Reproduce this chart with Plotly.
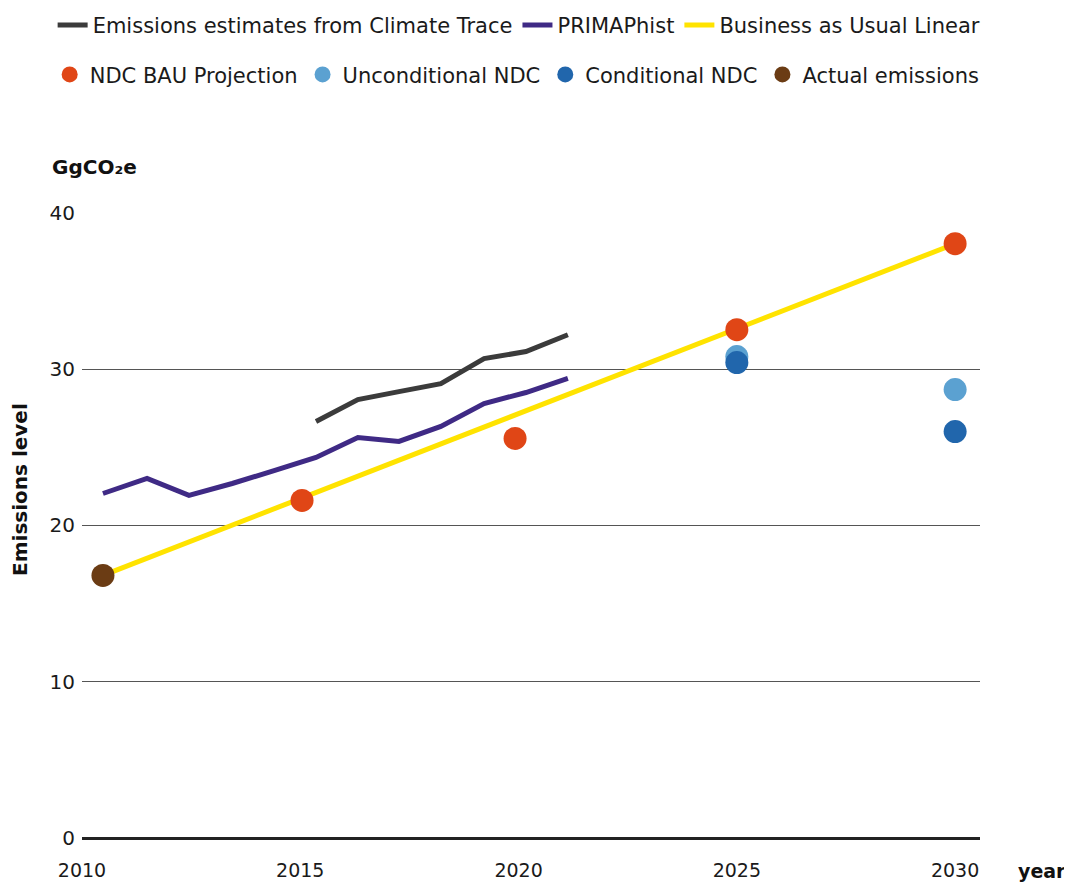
import plotly.graph_objects as go

# ---- data ----
ct_x = [2015.36, 2016.32, 2017.26, 2018.22, 2019.21, 2020.17, 2021.13]
ct_y = [26.65, 28.05, 28.56, 29.07, 30.67, 31.12, 32.2]

primap_x = [2010.48, 2011.49, 2012.45, 2013.44, 2014.40, 2015.36, 2016.32,
            2017.26, 2018.22, 2019.21, 2020.17, 2021.13]
primap_y = [22.04, 23.0, 21.92, 22.68, 23.5, 24.35, 25.62, 25.37, 26.33,
            27.8, 28.5, 29.4]

bau_x = [2010.48, 2030.0]
bau_y = [16.8, 38.02]

ndc_bau_x = [2015.04, 2019.92, 2025.0, 2030.0]
ndc_bau_y = [21.6, 25.56, 32.52, 38.02]

uncond_x = [2025.0, 2030.0]
uncond_y = [30.8, 28.69]

cond_x = [2025.0, 2030.0]
cond_y = [30.42, 26.0]

actual_x = [2010.48]
actual_y = [16.8]

x_ticks = [2010, 2015, 2020, 2025, 2030]
y_ticks = [0, 10, 20, 30, 40]

FONT = "DejaVu Sans"
fig = go.Figure()

fig.add_trace(go.Scatter(x=ct_x, y=ct_y, mode="lines", name="Emissions estimates from Climate Trace",
                         line=dict(color="#3b3b3b", width=5), legend="legend"))
fig.add_trace(go.Scatter(x=primap_x, y=primap_y, mode="lines", name="PRIMAPhist",
                         line=dict(color="#3f2a85", width=5), legend="legend"))
fig.add_trace(go.Scatter(x=bau_x, y=bau_y, mode="lines", name="Business as Usual Linear",
                         line=dict(color="#ffe300", width=5), legend="legend"))
fig.add_trace(go.Scatter(x=ndc_bau_x, y=ndc_bau_y, mode="markers", name="NDC BAU Projection",
                         marker=dict(color="#e04616", size=23), legend="legend2"))
fig.add_trace(go.Scatter(x=uncond_x, y=uncond_y, mode="markers", name="Unconditional NDC",
                         marker=dict(color="#5ba1d1", size=23), legend="legend2"))
fig.add_trace(go.Scatter(x=cond_x, y=cond_y, mode="markers", name="Conditional NDC",
                         marker=dict(color="#2166ac", size=23), legend="legend2"))
fig.add_trace(go.Scatter(x=actual_x, y=actual_y, mode="markers", name="Actual emissions",
                         marker=dict(color="#6b3c14", size=23), legend="legend2"))

fig.update_layout(
    width=1064, height=875,
    margin=dict(l=74, r=92, t=204, b=45, autoexpand=False),
    paper_bgcolor="white", plot_bgcolor="white",
    font=dict(family=FONT, size=20, color="#1a1a1a"),
    legend=dict(orientation="h", x=-0.0327, xanchor="left", y=1.331, yanchor="top",
                font=dict(size=21), itemwidth=30, traceorder="normal"),
    legend2=dict(orientation="h", x=-0.036, xanchor="left", y=1.252, yanchor="top",
                 font=dict(size=21), itemwidth=30, traceorder="normal"),
    xaxis=dict(range=[2010, 2030.57], tickvals=x_ticks, ticktext=[str(v) for v in x_ticks],
               showgrid=False, zeroline=False, showline=False,
               ticks="outside", ticklen=15, tickcolor="rgba(0,0,0,0)",
               tickfont=dict(size=19, color="#1a1a1a")),
    yaxis=dict(range=[0, 40.05], tickvals=y_ticks, showgrid=True, gridcolor="#555555", gridwidth=1,
               zeroline=True, zerolinecolor="#222222", zerolinewidth=2.5, showline=False,
               ticks="", ticklabelstandoff=6, tickfont=dict(size=20, color="#1a1a1a")),
)

fig.add_annotation(text="<b>GgCO₂e</b>", xref="paper", yref="paper", x=-0.0356, y=1.072,
                   xanchor="left", yanchor="middle", showarrow=False,
                   font=dict(size=20, family=FONT, color="#111"))
fig.add_annotation(text="<b>Emissions level</b>", xref="paper", yref="paper", x=-0.069, y=0.556,
                   xanchor="center", yanchor="middle", textangle=-90, showarrow=False,
                   font=dict(size=20, family=FONT, color="#111"))
fig.add_annotation(text="<b>year</b>", xref="paper", yref="paper", x=1.098, y=-0.052,
                   xanchor="right", yanchor="middle", showarrow=False,
                   font=dict(size=19, family=FONT, color="#111"))

fig.write_html("out.html")
